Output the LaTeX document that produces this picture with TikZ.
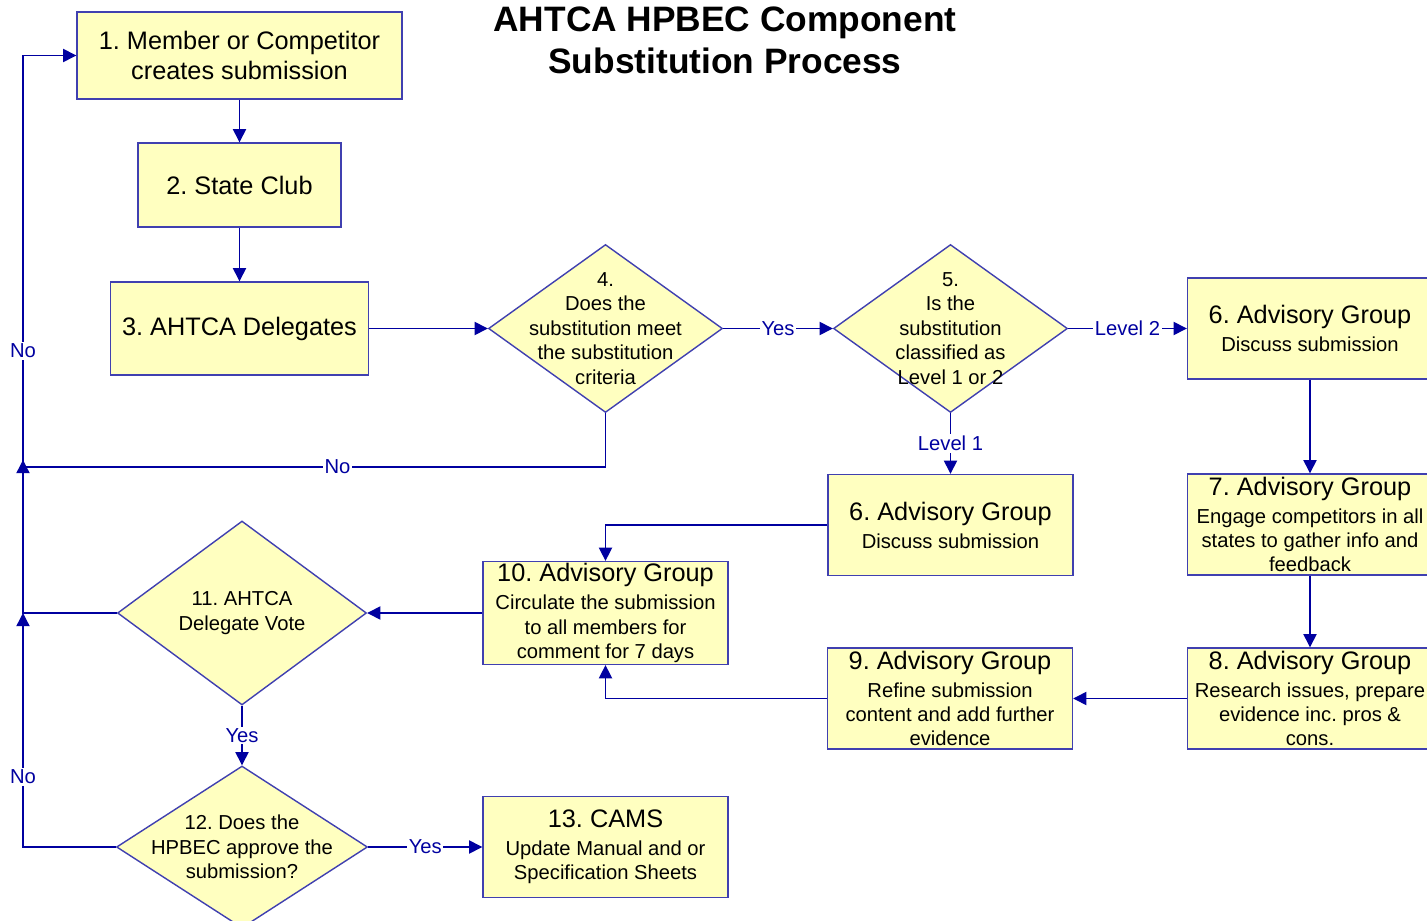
\documentclass[tikz,border=0pt]{standalone}
\usepackage{fontspec}
\setmainfont{Liberation Sans}
\usepackage{tikz}
\usetikzlibrary{shapes.geometric, arrows.meta}
\usetikzlibrary{calc}
\frenchspacing
\definecolor{boxfill}{RGB}{255,255,192}
\definecolor{boxline}{RGB}{64,64,176}
\definecolor{flowline}{RGB}{0,0,160}
\newcommand{\bigtxt}{\fontsize{14.4}{17}\selectfont}
\newcommand{\smalltxt}{\fontsize{11.5}{13.9}\selectfont}
\tikzstyle{process} = [rectangle, minimum width=4.9cm, minimum height=2.02cm, inner sep=1pt, text centered, align=center, draw=boxline, line width=0.8pt, fill=boxfill, font=\smalltxt]
\tikzstyle{decision} = [diamond, minimum width=4.68cm, minimum height=3.36cm, inner sep=0pt, draw=boxline, line width=0.8pt, fill=boxfill]
\tikzstyle{dtext} = [align=center, font=\smalltxt]
\tikzstyle{lbl} = [fill=white, text=flowline, inner sep=1pt, font=\smalltxt]
\tikzstyle{link} = [draw=flowline, line width=0.8pt]
\tikzstyle{arrow} = [link, -{Triangle[length=7.5pt,width=7.5pt]}]
\begin{document}
\frenchspacing
\begin{tikzpicture}[node distance=1.5cm]
	\useasboundingbox (0,0) rectangle (28.54,-18.42);
	%title
	\node (title) [align=center, font=\bfseries\fontsize{20.1}{23.8}\selectfont] at (14.5,-0.8) {AHTCA HPBEC Component\\Substitution Process};
	%left column and top row
	\node (N1) [process, minimum width=6.5cm, minimum height=1.74cm, font=\bigtxt] at (4.79,-1.11) {1. Member or Competitor\\creates submission};
	\node (N2) [process, below of=N1, yshift=-1.09cm, minimum width=4.06cm, minimum height=1.68cm, font=\bigtxt] {2. State Club};
	\node (N3) [process, below of=N2, yshift=-1.37cm, minimum width=5.16cm, minimum height=1.86cm, font=\bigtxt] {3. AHTCA Delegates};
	\node (D4) [decision, right of=N3, xshift=5.82cm] {};
	\node (D4t) [dtext] at (D4) {4.\\Does the\\substitution meet\\the substitution\\criteria};
	\node (D5) [decision, right of=D4, xshift=5.4cm] {};
	\node (D5t) [dtext] at (D5) {5.\\Is the\\substitution\\classified as\\Level 1 or 2};
	\node (G6a) [process, right of=D5, xshift=5.69cm] {{\bigtxt 6. Advisory Group}\\[2pt]Discuss submission};
	%advisory group
	\node (G7) [process, below of=G6a, yshift=-2.42cm] {{\bigtxt 7. Advisory Group}\\[2pt]Engage competitors in all\\states to gather info and\\feedback};
	\node (G8) [process, below of=G7, yshift=-1.98cm] {{\bigtxt 8. Advisory Group}\\[2pt]Research issues, prepare\\evidence inc. pros \&\\cons.};
	\node (G9) [process, left of=G8, xshift=-5.7cm] {{\bigtxt 9. Advisory Group}\\[2pt]Refine submission\\content and add further\\evidence};
	\node (G6b) [process, below of=D5, yshift=-2.43cm] {{\bigtxt 6. Advisory Group}\\[2pt]Discuss submission};
	\node (G10) [process, below of=D4, yshift=-4.19cm] {{\bigtxt 10. Advisory Group}\\[2pt]Circulate the submission\\to all members for\\comment for 7 days};
	%voting
	\node (D11) [decision, left of=G10, xshift=-5.77cm, minimum width=4.98cm, minimum height=3.68cm] {};
	\node (D11t) [dtext] at (D11) {11. AHTCA\\Delegate Vote};
	\node (D12) [decision, below of=D11, yshift=-3.18cm, minimum width=5.02cm, minimum height=3.24cm] {};
	\node (D12t) [dtext] at (D12) {12. Does the\\HPBEC approve the\\submission?};
	\node (N13) [process, right of=D12, xshift=5.77cm] {{\bigtxt 13. CAMS}\\[2pt]Update Manual and or\\Specification Sheets};
	\coordinate (trunk) at (0.46,0);
	\coordinate (j1) at (0.46,-9.34);
	\draw [arrow] (N1) -- (N2);
	\draw [arrow] (N2) -- (N3);
	\draw [arrow] (N3) -- (D4);
	\draw [arrow] (D4) -- node[lbl]{Yes} (D5);
	\draw [arrow] (D5) -- node[lbl]{Level 2} (G6a);
	\draw [arrow] (D5) -- node[lbl]{Level 1} (G6b);
	\draw [arrow] (G6a) -- (G7);
	\draw [arrow] (G7) -- (G8);
	\draw [arrow] (G8) -- (G9);
	\draw [arrow] (G9.west) -| (G10.south);
	\draw [arrow] (G6b.west) -| (G10.north);
	\draw [arrow] (G10) -- (D11);
	\draw [arrow] (D11) -- node[lbl]{Yes} (D12);
	\draw [arrow] (D12) -- node[lbl]{Yes} (N13);
	\draw [arrow] (D11.west) -- (D11.west -| trunk) -- node[lbl,pos=0.47]{No} (N1.west -| trunk) -- (N1.west);
	\draw [arrow] (D12.west) -- (D12.west -| trunk) -- node[lbl,pos=0.3]{No} (D11.west -| trunk);
	\draw [link] (D4.south) |- node[lbl,pos=0.73]{No} (j1);
	\draw [arrow] ($(j1)+(0,-0.2)$) -- ($(j1)+(0,0.14)$);
\end{tikzpicture}
\end{document}
